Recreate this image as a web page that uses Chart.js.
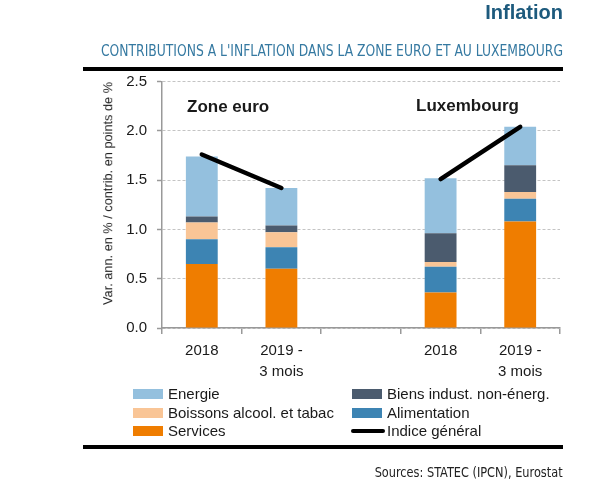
<!DOCTYPE html>
<html>
<head>
<meta charset="utf-8">
<script src="https://cdn.jsdelivr.net/npm/chart.js@4"></script>
<style>
  body { margin: 0; background: #fff; }
  #wrap { position: relative; width: 600px; height: 480px; overflow: hidden;
          font-family: "Liberation Sans", Arial, sans-serif; color: #1a1a1a; }
  #chart { position: absolute; left: 0; top: 0; }
  .abs { position: absolute; white-space: nowrap; }
  .narrow { font-family: "Liberation Sans Narrow", "DejaVu Sans Condensed", "Liberation Sans", sans-serif; }
  .rule { position: absolute; left: 83px; width: 480px; height: 4px; background: #000; }
  .sw { position: absolute; width: 30px; height: 10px; }
  .lg { position: absolute; font-size: 15px; line-height: 19px; }
</style>
</head>
<body>
<div id="wrap">
  <canvas id="chart" width="600" height="480"></canvas>

  <div class="abs" style="right:37px; top:2px; font-size:20px; line-height:20px; font-weight:bold; color:#1d5a7d;">Inflation</div>
  <div id="subtitle" class="abs narrow" style="left:101px; top:43px; font-size:16px; line-height:16px; color:#3579a1; transform-origin:left center;">CONTRIBUTIONS A L'INFLATION DANS LA ZONE EURO ET AU LUXEMBOURG</div>
  <div class="rule" style="top:67px;"></div>

  <!-- y axis title, rotated; centre at (108, 193) as in the original -->
  <div id="ytitle" class="abs" style="left:108px; top:193px; font-size:13px; line-height:13px; color:#222;">Var. ann. en % / contrib. en points de %</div>

  <div class="abs" style="left:187px; top:98px; font-size:17px; line-height:17px; font-weight:bold;">Zone euro</div>
  <div class="abs" style="left:416px; top:97px; font-size:17px; line-height:17px; font-weight:bold;">Luxembourg</div>

  <!-- legend -->
  <div class="sw" style="left:133px; top:389px; background:#94c0de;"></div>
  <div class="lg" style="left:168px; top:384px;">Energie</div>
  <div class="sw" style="left:133px; top:408px; background:#f9c596;"></div>
  <div class="lg" style="left:168px; top:403px;">Boissons alcool. et tabac</div>
  <div class="sw" style="left:133px; top:426px; background:#ef7d00;"></div>
  <div class="lg" style="left:168px; top:421px;">Services</div>
  <div class="sw" style="left:352px; top:389px; background:#4b5b6e;"></div>
  <div class="lg" style="left:387px; top:384px;">Biens indust. non-énerg.</div>
  <div class="sw" style="left:352px; top:408px; background:#3d84b3;"></div>
  <div class="lg" style="left:387px; top:403px;">Alimentation</div>
  <div class="sw" style="left:351px; top:429px; width:34px; height:4px; border-radius:2px; background:#000;"></div>
  <div class="lg" style="left:387px; top:421px;">Indice général</div>

  <div class="rule" style="top:445px;"></div>
  <div id="sources" class="abs narrow" style="right:37px; top:465px; font-size:14px; line-height:14px; color:#222; transform-origin:right center;">Sources: STATEC (IPCN), Eurostat</div>
</div>

<script>
// categories (the empty one is the gap between the two groups)
const categories = ['2018', ['2019 -', '3 mois'], '', '2018', ['2019 -', '3 mois']];

// contributions in points de %
const services     = [0.65, 0.60, null, 0.36, 1.08];
const alimentation = [0.25, 0.22, null, 0.26, 0.23];
const boissons     = [0.17, 0.15, null, 0.05, 0.07];
const biens        = [0.06, 0.07, null, 0.29, 0.27];
const energie      = [0.61, 0.38, null, 0.56, 0.39];

// headline index, % yoy
const indice = [1.76, 1.42, null, 1.51, 2.04];

const yMin = 0;
const yMax = 2.5;
const yStep = 0.5;

// squeeze the condensed texts to the width they have in the original
function fitWidth(id, w) {
  const el = document.getElementById(id);
  const r = el.getBoundingClientRect().width;
  el.style.transform = 'scaleX(' + (w / r) + ')';
}
fitWidth('subtitle', 462);
fitWidth('sources', 188);

// rotate the y title around its own centre, sized to 223px long
(function () {
  const el = document.getElementById('ytitle');
  const r = el.getBoundingClientRect();
  const cx = parseFloat(el.style.left), cy = parseFloat(el.style.top);
  el.style.left = (cx - r.width / 2) + 'px';
  el.style.top = (cy - r.height / 2) + 'px';
  el.style.transform = 'rotate(-90deg) scaleX(' + (223 / r.width) + ')';
})();

function bar(label, data, color) {
  return {
    label: label,
    data: data,
    backgroundColor: color,
    borderWidth: 0,
    stack: 'contrib',
    order: 1,
    barPercentage: 0.4,
    categoryPercentage: 1
  };
}

const ctx = document.getElementById('chart').getContext('2d');
new Chart(ctx, {
  type: 'bar',
  data: {
    labels: categories,
    datasets: [
      bar('Services', services, '#ef7d00'),
      bar('Alimentation', alimentation, '#3d84b3'),
      bar('Boissons alcool. et tabac', boissons, '#f9c596'),
      bar('Biens indust. non-énerg.', biens, '#4b5b6e'),
      bar('Energie', energie, '#94c0de'),
      {
        type: 'line',
        label: 'Indice général',
        data: indice,
        stack: 'indice',
        order: 0,
        borderColor: '#000',
        borderWidth: 4.5,
        borderCapStyle: 'round',
        pointRadius: 0,
        spanGaps: false,
        fill: false
      }
    ]
  },
  options: {
    responsive: false,
    animation: false,
    layout: { padding: { left: 100, right: 40, top: 81.5, bottom: 92 } },
    plugins: {
      legend: { display: false },
      tooltip: { enabled: false }
    },
    scales: {
      x: {
        stacked: true,
        grid: { drawOnChartArea: false, drawTicks: true, tickLength: 6, color: '#999', lineWidth: 1.5 },
        border: { color: '#999', width: 1.5 },
        ticks: { color: '#1a1a1a', font: { size: 15, family: 'Liberation Sans', lineHeight: 1.4 },
                 padding: 6, maxRotation: 0, autoSkip: false },
        afterFit: s => { s.height = 60; }
      },
      y: {
        stacked: true,
        min: yMin,
        max: yMax,
        ticks: { stepSize: yStep, color: '#1a1a1a', padding: 10,
                 font: { size: 15, family: 'Liberation Sans' },
                 callback: v => v.toFixed(1) },
        grid: { color: '#c4c4c4', lineWidth: 1, tickColor: '#999', tickLength: 5, tickWidth: 1.5 },
        border: { color: '#999', width: 1.5, dash: [3, 2] },
        afterFit: s => { s.width = 62; }
      }
    }
  }
});
</script>
</body>
</html>
